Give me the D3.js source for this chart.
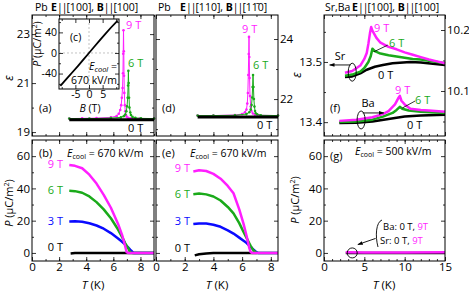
<!DOCTYPE html>
<html>
<head>
<meta charset="utf-8">
<script src="https://cdn.jsdelivr.net/npm/d3@7"></script>
<style>
  body { margin: 0; background: #fff; }
  text { font-family: "Open Sans", sans-serif; }
</style>
</head>
<body>
<script>
// ---- data ----
// (a) Pb, E||[100]: eps vs T
const tA0 = [2.75, 4.2, 6.3, 7.4, 9];
const epsA0 = [19.5, 19.5, 19.5, 19.5, 19.5];
const tA9 = [2.75, 3.7, 4.76, 5.82, 6.24, 6.4, 6.51, 6.58, 6.63, 6.68, 6.71, 6.73, 6.75, 6.77, 6.79, 6.81, 6.85, 6.88, 6.93, 6.98, 7.09, 7.25, 7.41, 7.94, 9];
const epsA9 = [19.55, 19.56, 19.57, 19.6, 19.65, 19.75, 19.9, 20.1, 20.4, 20.8, 21.4, 22.2, 23.16, 22.3, 21.3, 20.6, 20.1, 19.85, 19.7, 19.63, 19.58, 19.56, 19.55, 19.55, 19.55];
const tA6 = [2.75, 4.23, 5.82, 6.56, 6.77, 6.88, 6.96, 7.01, 7.06, 7.09, 7.11, 7.13, 7.16, 7.19, 7.25, 7.3, 7.41, 7.62, 8.04, 9];
const epsA6 = [19.55, 19.55, 19.57, 19.6, 19.65, 19.72, 19.85, 20.05, 20.4, 20.9, 21.5, 21.0, 20.4, 20.0, 19.8, 19.7, 19.62, 19.58, 19.56, 19.55];

// (c) inset: P vs B
const bC = [-10.5, -8, -6, -4, -2, 0, 2, 4, 6, 8, 10.5];
const pC = [-64, -49, -37, -25, -12.5, 0, 12.5, 25, 37, 49, 63];

// (d) Pb, E||[110]: eps vs T
const tD0 = [2.9, 4, 6, 7, 8.5];
const epsD0 = [21.4, 21.4, 21.4, 21.4, 21.4];
const tD9 = [2.9, 4, 5.5, 6.0, 6.2, 6.3, 6.36, 6.4, 6.43, 6.46, 6.48, 6.5, 6.52, 6.55, 6.6, 6.65, 6.75, 6.9, 7.2, 8.5];
const epsD9 = [21.45, 21.45, 21.47, 21.5, 21.56, 21.65, 21.85, 22.2, 22.8, 23.5, 24.07, 23.4, 22.7, 22.1, 21.75, 21.6, 21.52, 21.48, 21.46, 21.45];
const tD6 = [2.9, 4, 5.5, 6.3, 6.5, 6.6, 6.66, 6.7, 6.73, 6.76, 6.79, 6.82, 6.86, 6.9, 6.95, 7.05, 7.3, 8.5];
const epsD6 = [21.45, 21.45, 21.46, 21.5, 21.56, 21.65, 21.8, 22.05, 22.4, 22.8, 22.4, 22.0, 21.75, 21.6, 21.53, 21.49, 21.46, 21.45];

// (b) P vs T, E||[100]
const tB = [2.75, 3.17, 3.7, 4.23, 4.76, 5.29, 5.82, 6.35, 6.67, 6.88, 6.98, 7.09, 7.19, 7.3, 7.41, 7.51, 7.94, 8.46, 9];
const pB9 = [54.5, 54, 52.5, 48.5, 43, 36, 28, 18, 10.5, 4, 0.5, 0, 0, 0, 0, 0, 0, 0, 0];
const pB6 = [38.5, 38.3, 37.3, 35, 31.5, 27, 21.5, 14.5, 9.5, 6, 4.5, 3, 1.2, 0.2, 0, 0, 0, 0, 0];
const pB3 = [19.5, 19.6, 19.3, 18.4, 17, 15, 12.3, 9, 6.8, 5.2, 4.3, 3.4, 2.5, 1.5, 0.6, 0, 0, 0, 0];
const tB0 = [2.85, 3.17, 4.23, 5.29, 6.35, 7.41, 9];
const pB0 = [-0.3, 0, 0, 0, 0, 0, 0];

// (e) P vs T, E||[110]
const tE = [2.6, 3, 3.5, 4, 4.5, 5, 5.4, 5.8, 6.1, 6.3, 6.5, 6.6, 6.7, 6.8, 7.0, 7.1, 7.5, 8, 8.5];
const pE9 = [50.5, 51.2, 50.8, 49, 46, 41.5, 37, 27, 18, 11, 3, 0.5, 0, 0, 0, 0, 0, 0, 0];
const pE6 = [36.4, 36.8, 36.3, 35, 32.5, 28.5, 24.5, 18.5, 13, 9.5, 6, 4.2, 2.8, 1.5, 0, 0, 0, 0, 0];
const pE3 = [17.9, 18.3, 18.2, 17.5, 16.2, 14, 12, 9.5, 7.6, 6.3, 4.5, 3.7, 2.9, 2, 0.5, 0, 0, 0, 0];
const tE0 = [2.7, 3, 3.5, 4, 5, 6, 7];
const pE0 = [-1.5, -0.8, -0.3, 0, 0, 0, 0];

// (f) Sr (left axis) and Ba (right axis): eps vs T
const tFs0 = [2.6, 3.5, 4.5, 5.3, 6.3, 7.3, 8.5, 10.7, 12, 13.5, 15];
const epsFs0 = [13.475, 13.476, 13.481, 13.487, 13.492, 13.495, 13.498, 13.5, 13.499, 13.497, 13.495];
const tFs6 = [2.6, 3.5, 4.5, 5, 5.5, 5.8, 6.0, 6.3, 7, 8, 9, 10, 11, 12, 13, 14, 15];
const epsFs6 = [13.477, 13.479, 13.484, 13.49, 13.5, 13.51, 13.522, 13.518, 13.514, 13.511, 13.509, 13.507, 13.505, 13.504, 13.502, 13.5, 13.498];
const tFs9 = [2.6, 3.5, 4.5, 5, 5.3, 5.5, 5.7, 5.85, 6.0, 6.5, 7, 8, 9, 10, 11, 12, 13, 14, 15];
const epsFs9 = [13.482, 13.485, 13.494, 13.505, 13.515, 13.53, 13.548, 13.558, 13.552, 13.54, 13.532, 13.525, 13.521, 13.516, 13.512, 13.508, 13.504, 13.501, 13.498];
const tFb0 = [1.9, 4, 6, 8, 10, 12, 15];
const epsFb0 = [10.0475, 10.048, 10.05, 10.054, 10.058, 10.06, 10.061];
const tFb6 = [1.9, 4, 6, 7.3, 8.5, 9.0, 9.4, 9.7, 10.5, 12, 15];
const epsFb6 = [10.049, 10.05, 10.053, 10.058, 10.064, 10.069, 10.074, 10.071, 10.068, 10.066, 10.064];
const tFb9 = [1.9, 4, 6, 7.3, 8, 8.8, 9.2, 9.4, 9.6, 10, 10.7, 12, 13, 15];
const epsFb9 = [10.051, 10.053, 10.057, 10.062, 10.067, 10.078, 10.088, 10.092, 10.084, 10.078, 10.071, 10.069, 10.068, 10.066];

// (g) P vs T, Sr/Ba, 0 T and 9 T
const tG = [2.7, 5, 10, 15];
const pG0 = [0, 0, 0, 0];
const pG9 = [0.4, 0.3, 0.3, 0.4];

const MAG = "#ff1eff", GRN = "#1aaa1a", BLU = "#0a0aff";

// ---- svg ----
const svg = d3.select("body").append("svg").attr("width", 469).attr("height", 292);
const defs = svg.append("defs");
defs.append("marker").attr("id", "arr").attr("viewBox", "0 0 10 10")
  .attr("refX", 9).attr("refY", 5).attr("markerWidth", 6).attr("markerHeight", 6)
  .attr("orient", "auto-start-reverse")
  .append("path").attr("d", "M0,1.5L10,5L0,8.5Z").attr("fill", "#000");

// panel boxes
const PA = {l: 32, t: 15, r: 154, b: 136};
const PB = {l: 32, t: 140, r: 154, b: 261};
const PD = {l: 156, t: 15, r: 278, b: 136};
const PE = {l: 156, t: 140, r: 278, b: 261};
const PF = {l: 324, t: 15, r: 445, b: 136};
const PG = {l: 324, t: 140, r: 445, b: 261};
const PC = {l: 59, t: 19, r: 119, b: 89};

const xAB = d3.scaleLinear([0, 9], [PA.l, PA.r]);
const xDE = d3.scaleLinear([0, 8.5], [PD.l, PD.r]);
const xFG = d3.scaleLinear([0, 15], [PF.l, PF.r]);
const yA = d3.scaleLinear([18.84, 23.78], [PA.b, PA.t]);
const yD = d3.scaleLinear([20.77, 24.8], [PD.b, PD.t]);
const yPB = d3.scaleLinear([-5, 70], [PB.b, PB.t]);
const yFs = d3.scaleLinear([13.377, 13.578], [PF.b, PF.t]);
const yFb = d3.scaleLinear([10.0262, 10.2246], [PF.b, PF.t]);
const xC = d3.scaleLinear([-11, 11], [PC.l, PC.r]);
const yC = d3.scaleLinear([-70, 66], [PC.b, PC.t]);

const range = (a, b, s) => d3.range(a, b + s / 2, s);

// draw ticks on one side of a box
function ticks(orient, scale, pos, majors, minors, labels, fs = 11) {
  const mk = {bottom: d3.axisBottom, top: d3.axisTop, left: d3.axisLeft, right: d3.axisRight}[orient];
  const tr = orient === "bottom" || orient === "top" ? `translate(0,${pos})` : `translate(${pos},0)`;
  const g = svg.append("g").attr("transform", tr);
  g.call(mk(scale).tickValues(majors).tickSize(-4).tickPadding(2)
    .tickFormat(labels ? (d) => String(d) : ""));
  if (minors) g.append("g").call(mk(scale).tickValues(minors).tickSize(-2).tickFormat(""));
  g.selectAll(".domain").remove();
  g.selectAll("line").attr("stroke", "#000").attr("stroke-width", 0.8);
  g.selectAll("text").attr("font-family", "'Open Sans', sans-serif").attr("font-size", fs).attr("fill", "#000");
  return g;
}

function box(p, fill) {
  svg.append("rect").attr("x", p.l).attr("y", p.t).attr("width", p.r - p.l).attr("height", p.b - p.t)
    .attr("fill", fill || "none").attr("stroke", "#000").attr("stroke-width", 1);
}

function series(xs, ys, sx, sy, color, w, dots) {
  const pts = xs.map((x, i) => [sx(x), sy(ys[i])]);
  svg.append("path").attr("d", d3.line()(pts)).attr("fill", "none")
    .attr("stroke", color).attr("stroke-width", w).attr("stroke-linejoin", "round");
  if (dots) {
    svg.append("g").selectAll("circle").data(pts).join("circle")
      .attr("cx", (d) => d[0]).attr("cy", (d) => d[1]).attr("r", 1.3).attr("fill", color);
  }
}

function label(x, y, txt, color, anchor, size) {
  return svg.append("text").attr("x", x).attr("y", y).attr("fill", color || "#000")
    .attr("text-anchor", anchor || "start").attr("font-size", size || 11).text(txt);
}

function ecool(x, y, val) {
  const t = svg.append("text").attr("x", x).attr("y", y).attr("font-size", 10.5);
  t.append("tspan").attr("font-style", "italic").text("E");
  t.append("tspan").attr("font-size", 7).attr("dy", 2).text("cool");
  t.append("tspan").attr("dy", -2).text(" = " + val + " kV/m");
}

function pLabel(x, y, size) {
  const s = size || 11;
  const t = svg.append("text").attr("transform", `translate(${x},${y}) rotate(-90)`)
    .attr("text-anchor", "middle").attr("font-size", s);
  t.append("tspan").attr("font-style", "italic").text("P");
  t.append("tspan").text(" (\u03BCC/m");
  t.append("tspan").attr("font-size", s * 0.65).attr("dy", -4).text("2");
  t.append("tspan").attr("dy", 4).text(")");
}

function tLabel(x, y) {
  const t = svg.append("text").attr("x", x).attr("y", y).attr("text-anchor", "middle").attr("font-size", 11.5);
  t.append("tspan").attr("font-style", "italic").text("T");
  t.append("tspan").text(" (K)");
}

function title(x0, x1, pre, e, b) {
  const y = 11;
  svg.append("text").attr("x", x0).attr("y", y).attr("font-size", 10.5).text(pre);
  const t = svg.append("text").attr("x", x1).attr("y", y).attr("font-size", 10.5);
  t.append("tspan").attr("font-weight", "bold").text("E");
  t.append("tspan").attr("letter-spacing", -1).text("||");
  t.append("tspan").text(e + ", ");
  t.append("tspan").attr("font-weight", "bold").text("B");
  t.append("tspan").attr("letter-spacing", -1).text("||");
  t.append("tspan").text(b);
}

// ---- panel (a) ----
ticks("left", yA, PA.l, [19, 21, 23], [20, 22], true, 11.5);
ticks("right", yA, PA.r, [19, 21, 23], [20, 22], false);
ticks("bottom", xAB, PA.b, [0, 2, 4, 6, 8], range(1, 9, 1), false);
ticks("top", xAB, PA.t, [0, 2, 4, 6, 8], range(1, 9, 1), false);
series(tA9, epsA9, xAB, yA, MAG, 1, true);
series(tA6, epsA6, xAB, yA, GRN, 1, true);
series(tA0, epsA0, xAB, yA, "#000", 3, false);
label(126, 29, "9 T", MAG, "start", 11);
label(128, 67, "6 T", GRN, "start", 11);
label(128, 132, "0 T", "#000", "start", 11);
label(39, 112, "(a)");
svg.append("text").attr("transform", "translate(13,78) rotate(-90)").attr("text-anchor", "middle")
  .attr("font-size", 12).attr("font-style", "italic").text("\u03B5");

// inset (c)
box(PC, "#fff");
svg.append("line").attr("x1", xC(0)).attr("x2", xC(0)).attr("y1", PC.t).attr("y2", PC.b)
  .attr("stroke", "#999").attr("stroke-width", 0.6).attr("stroke-dasharray", "2,2");
svg.append("line").attr("x1", PC.l).attr("x2", PC.r).attr("y1", yC(0)).attr("y2", yC(0))
  .attr("stroke", "#999").attr("stroke-width", 0.6).attr("stroke-dasharray", "2,2");
ticks("left", yC, PC.l, [-40, 0, 40], [-60, -20, 20, 60], true, 10.5);
ticks("right", yC, PC.r, [-40, 0, 40], [-60, -20, 20, 60], false);
ticks("bottom", xC, PC.b, [-5, 0, 5], [-10, 10], true, 10.5);
ticks("top", xC, PC.t, [-5, 0, 5], [-10, 10], false);
series(bC, pC, xC, yC, "#000", 1.8, false);
label(70, 41, "(c)", "#000", "start", 10.5);
{
  const t = svg.append("text").attr("x", 117).attr("y", 70).attr("text-anchor", "end").attr("font-size", 10.5);
  t.append("tspan").attr("font-style", "italic").text("E");
  t.append("tspan").attr("font-style", "italic").attr("font-size", 7.5).attr("dy", 2).text("cool");
  t.append("tspan").attr("dy", -2).text(" =");
  label(117, 84, "670 kV/m", "#000", "end", 10.5);
  const b = svg.append("text").attr("x", 90).attr("y", 112).attr("text-anchor", "middle").attr("font-size", 10.5);
  b.append("tspan").attr("font-style", "italic").text("B");
  b.append("tspan").text(" (T)");
}
pLabel(41, 44, 10.5);
box(PA);

// ---- panel (d) ----
ticks("right", yD, PD.r, [22, 24], [21, 23], true, 11.5);
ticks("left", yD, PD.l, [22, 24], [21, 23], false);
ticks("bottom", xDE, PD.b, [0, 2, 4, 6, 8], range(1, 8, 1), false);
ticks("top", xDE, PD.t, [0, 2, 4, 6, 8], range(1, 8, 1), false);
series(tD9, epsD9, xDE, yD, MAG, 1, true);
series(tD6, epsD6, xDE, yD, GRN, 1, true);
series(tD0, epsD0, xDE, yD, "#000", 3, false);
label(242, 33, "9 T", MAG, "start", 11);
label(253, 69, "6 T", GRN, "start", 11);
label(257, 129, "0 T", "#000", "start", 11);
label(162, 112, "(d)");
box(PD);

// ---- panel (b) ----
ticks("left", yPB, PB.l, [0, 20, 40, 60], [10, 30, 50], true, 11.5);
ticks("right", yPB, PB.r, [0, 20, 40, 60], [10, 30, 50], false);
ticks("bottom", xAB, PB.b, [0, 2, 4, 6, 8], range(1, 9, 1), true, 11.5);
ticks("top", xAB, PB.t, [0, 2, 4, 6, 8], range(1, 9, 1), false);
series(tB0, pB0, xAB, yPB, "#000", 2.5);
series(tB, pB3, xAB, yPB, BLU, 2.5);
series(tB, pB6, xAB, yPB, GRN, 2.5);
series(tB, pB9, xAB, yPB, MAG, 2.5);
label(63, 168, "9 T", MAG, "end");
label(63, 194, "6 T", GRN, "end");
label(63, 225, "3 T", BLU, "end");
label(63, 251, "0 T", "#000", "end");
label(39, 157, "(b)");
ecool(67, 157, "670");
pLabel(13, 203);
tLabel(93, 289);
box(PB);

// ---- panel (e) ----
ticks("left", yPB, PE.l, [0, 20, 40, 60], [10, 30, 50], false);
ticks("right", yPB, PE.r, [0, 20, 40, 60], [10, 30, 50], false);
ticks("bottom", xDE, PE.b, [0, 2, 4, 6, 8], range(1, 8, 1), true, 11.5);
ticks("top", xDE, PE.t, [0, 2, 4, 6, 8], range(1, 8, 1), false);
series(tE0, pE0, xDE, yPB, "#000", 2.5);
series(tE, pE3, xDE, yPB, BLU, 2.5);
series(tE, pE6, xDE, yPB, GRN, 2.5);
series(tE, pE9, xDE, yPB, MAG, 2.5);
label(190, 172, "9 T", MAG, "end");
label(190, 198, "6 T", GRN, "end");
label(190, 225, "3 T", BLU, "end");
label(190, 252, "0 T", "#000", "end");
label(162, 157, "(e)");
ecool(190, 157, "670");
tLabel(217, 289);
box(PE);

// ---- panel (f) ----
ticks("left", yFs, PF.l, [13.4, 13.5], [13.45, 13.55], true, 11.5);
ticks("right", yFb, PF.r, [10.1, 10.2], [10.05, 10.15], true, 11.5);
ticks("bottom", xFG, PF.b, [0, 5, 10, 15], range(1, 14, 1), false);
ticks("top", xFG, PF.t, [0, 5, 10, 15], range(1, 14, 1), false);
series(tFs0, epsFs0, xFG, yFs, "#000", 2.5);
series(tFs6, epsFs6, xFG, yFs, GRN, 2.5);
series(tFs9, epsFs9, xFG, yFs, MAG, 2.5);
series(tFb0, epsFb0, xFG, yFb, "#000", 2.5);
series(tFb6, epsFb6, xFG, yFb, GRN, 2.5);
series(tFb9, epsFb9, xFG, yFb, MAG, 2.5);
label(374, 32, "9 T", MAG);
label(389, 47, "6 T", GRN);
label(378, 79, "0 T");
label(395, 94, "9 T", MAG);
label(415, 104, "6 T", GRN);
label(407, 129, "0 T");
label(330, 112, "(f)");
// pointer lines to the 6 T peaks
svg.append("line").attr("x1", xFG(7.9)).attr("y1", yFs(13.528)).attr("x2", xFG(6.2)).attr("y2", yFs(13.517))
  .attr("stroke", "#000").attr("stroke-width", 0.8);
svg.append("line").attr("x1", xFG(11.3)).attr("y1", yFb(10.0836)).attr("x2", xFG(9.7)).attr("y2", yFb(10.072))
  .attr("stroke", "#000").attr("stroke-width", 0.8);
// Sr / Ba axis markers
svg.append("ellipse").attr("cx", xFG(3.5)).attr("cy", yFs(13.483)).attr("rx", 4).attr("ry", 9)
  .attr("fill", "none").attr("stroke", "#000").attr("stroke-width", 0.9);
svg.append("line").attr("x1", xFG(3.3)).attr("y1", yFs(13.495)).attr("x2", xFG(0.7)).attr("y2", yFs(13.495))
  .attr("stroke", "#000").attr("stroke-width", 0.9).attr("marker-end", "url(#arr)");
label(340, 60, "Sr", "#000", "middle");
svg.append("ellipse").attr("cx", xFG(4.6)).attr("cy", yFb(10.0525)).attr("rx", 4).attr("ry", 9)
  .attr("fill", "none").attr("stroke", "#000").attr("stroke-width", 0.9);
svg.append("line").attr("x1", xFG(4.8)).attr("y1", yFb(10.064)).attr("x2", xFG(7.4)).attr("y2", yFb(10.064))
  .attr("stroke", "#000").attr("stroke-width", 0.9).attr("marker-end", "url(#arr)");
label(368, 107, "Ba", "#000", "middle");
svg.append("text").attr("transform", "translate(301,75) rotate(-90)").attr("text-anchor", "middle")
  .attr("font-size", 12).attr("font-style", "italic").text("\u03B5");
box(PF);

// ---- panel (g) ----
ticks("left", yPB, PG.l, [0, 20, 40, 60], [10, 30, 50], true, 11.5);
ticks("right", yPB, PG.r, [0, 20, 40, 60], [10, 30, 50], false);
ticks("bottom", xFG, PG.b, [0, 5, 10, 15], range(1, 14, 1), true, 11.5);
ticks("top", xFG, PG.t, [0, 5, 10, 15], range(1, 14, 1), false);
series(tG, pG0, xFG, yPB, "#000", 2.5);
series(tG, pG9, xFG, yPB, MAG, 2.5);
svg.append("ellipse").attr("cx", xFG(3.5)).attr("cy", yPB(0)).attr("rx", 5).attr("ry", 5)
  .attr("fill", "none").attr("stroke", "#000").attr("stroke-width", 0.9);
svg.append("line").attr("x1", xFG(6.4)).attr("y1", yPB(9)).attr("x2", xFG(4.2)).attr("y2", yPB(5.2))
  .attr("stroke", "#000").attr("stroke-width", 0.9).attr("marker-end", "url(#arr)");
svg.append("path").attr("d", "M382,220 C376,222 375,236 378,247").attr("fill", "none")
  .attr("stroke", "#000").attr("stroke-width", 0.9);
{
  const t1 = svg.append("text").attr("x", 383).attr("y", 230).attr("font-size", 9.5);
  t1.append("tspan").text("Ba: 0 T, ");
  t1.append("tspan").attr("fill", MAG).text("9T");
  const t2 = svg.append("text").attr("x", 380).attr("y", 244).attr("font-size", 9.5);
  t2.append("tspan").text("Sr: 0 T, ");
  t2.append("tspan").attr("fill", MAG).text("9T");
}
label(330, 160, "(g)");
ecool(355, 155, "500");
pLabel(299, 200);
tLabel(384, 289);
box(PG);

// ---- titles ----
title(35, 51, "Pb", "[100]", "[100]");
title(158, 180, "Pb", "[110]", "[11\u03040]");
title(325, 352, "Sr,Ba", "[100]", "[100]");
</script>
</body>
</html>
